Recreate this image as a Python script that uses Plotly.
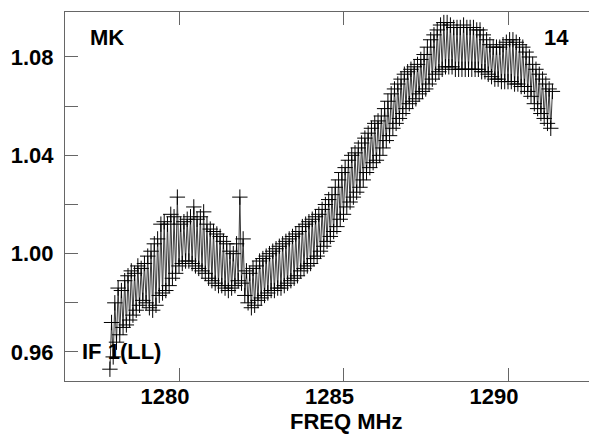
import plotly.graph_objects as go

# ---- data (lower / upper envelope channels) ----
freq_lower = [1277.90,
    1278.00, 1278.10, 1278.20, 1278.30, 1278.40, 1278.50, 1278.60, 1278.70, 1278.80, 1278.90,
    1279.00, 1279.10, 1279.20, 1279.30, 1279.40, 1279.50, 1279.60, 1279.70, 1279.80, 1279.90,
    1280.00, 1280.10, 1280.20, 1280.30, 1280.40, 1280.50, 1280.60, 1280.70, 1280.80, 1280.90,
    1281.00, 1281.10, 1281.20, 1281.30, 1281.40, 1281.50, 1281.60, 1281.70, 1281.80, 1281.90,
    1282.00, 1282.10, 1282.20, 1282.30, 1282.40, 1282.50, 1282.60, 1282.70, 1282.80, 1282.90,
    1283.00, 1283.10, 1283.20, 1283.30, 1283.40, 1283.50, 1283.60, 1283.70, 1283.80, 1283.90,
    1284.00, 1284.10, 1284.20, 1284.30, 1284.40, 1284.50, 1284.60, 1284.70, 1284.80, 1284.90,
    1285.00, 1285.10, 1285.20, 1285.30, 1285.40, 1285.50, 1285.60, 1285.70, 1285.80, 1285.90,
    1286.00, 1286.10, 1286.20, 1286.30, 1286.40, 1286.50, 1286.60, 1286.70, 1286.80, 1286.90,
    1287.00, 1287.10, 1287.20, 1287.30, 1287.40, 1287.50, 1287.60, 1287.70, 1287.80, 1287.90,
    1288.00, 1288.10, 1288.20, 1288.30, 1288.40, 1288.50, 1288.60, 1288.70, 1288.80, 1288.90,
    1289.00, 1289.10, 1289.20, 1289.30, 1289.40, 1289.50, 1289.60, 1289.70, 1289.80, 1289.90,
    1290.00, 1290.10, 1290.20, 1290.30, 1290.40, 1290.50, 1290.60, 1290.70, 1290.80, 1290.90,
    1291.00, 1291.10, 1291.20, 1291.30]
amp_lower = [0.953,
    0.958, 0.964, 0.967, 0.970, 0.971, 0.973, 0.975, 0.977, 0.979, 0.981,
    0.980, 0.978, 0.977, 0.979, 0.983, 0.984, 0.985, 0.987, 0.990, 0.992,
    0.995, 0.996, 0.997, 0.997, 0.996, 0.995, 0.994, 0.993, 0.992, 0.990,
    0.989, 0.988, 0.987, 0.987, 0.986, 0.985, 0.986, 0.987, 0.989, 0.988,
    0.983, 0.980, 0.978, 0.979, 0.981, 0.982, 0.983, 0.984, 0.985, 0.985,
    0.986, 0.986, 0.987, 0.988, 0.989, 0.990, 0.991, 0.993, 0.994, 0.995,
    0.996, 0.998, 0.999, 1.001, 1.003, 1.005, 1.007, 1.009, 1.011, 1.014,
    1.016, 1.019, 1.021, 1.023, 1.025, 1.027, 1.030, 1.033, 1.035, 1.037,
    1.038, 1.040, 1.043, 1.046, 1.048, 1.051, 1.053, 1.055, 1.057, 1.059,
    1.061, 1.062, 1.063, 1.065, 1.066, 1.067, 1.069, 1.071, 1.073, 1.074,
    1.075, 1.076, 1.076, 1.076, 1.075, 1.075, 1.075, 1.075, 1.075, 1.075,
    1.075, 1.075, 1.074, 1.074, 1.073, 1.072, 1.071, 1.071, 1.070, 1.070,
    1.070, 1.070, 1.069, 1.069, 1.068, 1.068, 1.066, 1.064, 1.061, 1.059,
    1.057, 1.055, 1.053, 1.051]

freq_upper = [1277.95,
    1278.05, 1278.15, 1278.25, 1278.35, 1278.45, 1278.55, 1278.65, 1278.75, 1278.85, 1278.95,
    1279.05, 1279.15, 1279.25, 1279.35, 1279.45, 1279.55, 1279.65, 1279.75, 1279.85, 1279.95,
    1280.05, 1280.15, 1280.25, 1280.35, 1280.45, 1280.55, 1280.65, 1280.75, 1280.85, 1280.95,
    1281.05, 1281.15, 1281.25, 1281.35, 1281.45, 1281.55, 1281.65, 1281.75, 1281.85, 1281.95,
    1282.05, 1282.15, 1282.25, 1282.35, 1282.45, 1282.55, 1282.65, 1282.75, 1282.85, 1282.95,
    1283.05, 1283.15, 1283.25, 1283.35, 1283.45, 1283.55, 1283.65, 1283.75, 1283.85, 1283.95,
    1284.05, 1284.15, 1284.25, 1284.35, 1284.45, 1284.55, 1284.65, 1284.75, 1284.85, 1284.95,
    1285.05, 1285.15, 1285.25, 1285.35, 1285.45, 1285.55, 1285.65, 1285.75, 1285.85, 1285.95,
    1286.05, 1286.15, 1286.25, 1286.35, 1286.45, 1286.55, 1286.65, 1286.75, 1286.85, 1286.95,
    1287.05, 1287.15, 1287.25, 1287.35, 1287.45, 1287.55, 1287.65, 1287.75, 1287.85, 1287.95,
    1288.05, 1288.15, 1288.25, 1288.35, 1288.45, 1288.55, 1288.65, 1288.75, 1288.85, 1288.95,
    1289.05, 1289.15, 1289.25, 1289.35, 1289.45, 1289.55, 1289.65, 1289.75, 1289.85, 1289.95,
    1290.05, 1290.15, 1290.25, 1290.35, 1290.45, 1290.55, 1290.65, 1290.75, 1290.85, 1290.95,
    1291.05, 1291.15, 1291.25, 1291.35]
amp_upper = [0.972,
    0.980, 0.986, 0.985, 0.989, 0.991, 0.993, 0.992, 0.995, 0.994, 0.996,
    0.999, 1.001, 1.004, 1.006, 1.012, 1.013, 1.012, 1.016, 1.015, 1.023,
    1.012, 1.013, 1.014, 1.015, 1.019, 1.014, 1.015, 1.017, 1.012, 1.010,
    1.009, 1.008, 1.007, 1.005, 1.004, 1.001, 1.000, 1.004, 1.023, 1.006,
    0.993, 0.992, 0.994, 0.995, 0.997, 0.998, 0.999, 1.000, 1.001, 1.002,
    1.003, 1.004, 1.005, 1.006, 1.007, 1.008, 1.009, 1.011, 1.012, 1.013,
    1.014, 1.015, 1.016, 1.018, 1.020, 1.022, 1.024, 1.027, 1.030, 1.033,
    1.035, 1.038, 1.040, 1.041, 1.043, 1.045, 1.047, 1.049, 1.051, 1.053,
    1.054, 1.056, 1.059, 1.062, 1.065, 1.067, 1.069, 1.071, 1.073, 1.074,
    1.075, 1.076, 1.077, 1.079, 1.081, 1.084, 1.087, 1.089, 1.091, 1.093,
    1.094, 1.094, 1.093, 1.092, 1.092, 1.092, 1.093, 1.092, 1.092, 1.092,
    1.091, 1.091, 1.089, 1.087, 1.085, 1.084, 1.084, 1.084, 1.085, 1.086,
    1.087, 1.087, 1.086, 1.085, 1.084, 1.082, 1.080, 1.077, 1.075, 1.073,
    1.071, 1.069, 1.067, 1.066]

x_tickvals = [1280, 1285, 1290]
x_ticktext = ["1280", "1285", "1290"]
y_tickvals = [0.96, 0.98, 1.00, 1.02, 1.04, 1.06, 1.08]
y_ticktext = ["0.96", "", "1.00", "", "1.04", "", "1.08"]

# channels in frequency order (alternating lower / upper)
points = sorted(zip(freq_lower + freq_upper, amp_lower + amp_upper))
freq = [p[0] for p in points]
amp = [p[1] for p in points]

FONT = "Liberation Sans, Arial, Helvetica, sans-serif"
AX = "#666666"

fig = go.Figure()
fig.add_trace(go.Scatter(
    x=freq, y=amp, mode="lines+markers",
    line=dict(color="#3a3a3a", width=1),
    marker=dict(symbol="cross-thin", size=11, color="black",
                line=dict(width=1, color="black")),
    showlegend=False, hoverinfo="skip"))

fig.update_layout(
    template="none",
    width=589, height=434,
    margin=dict(l=65, r=0, t=12, b=53, autoexpand=False),
    paper_bgcolor="white", plot_bgcolor="white",
    font=dict(family=FONT, size=22, color="black"),
    xaxis=dict(range=[1276.535, 1292.462], showgrid=False, zeroline=False,
               automargin=False,
               showline=True, linecolor=AX, linewidth=1, mirror="ticks",
               ticks="inside", ticklen=13, tickcolor=AX, tickwidth=1,
               tickvals=x_tickvals, ticktext=x_ticktext,
               tickfont=dict(family=FONT, size=22, color="black", weight="bold"),
               ticklabelshift=-14, ticklabelstandoff=-4),
    yaxis=dict(range=[0.9482, 1.0983], showgrid=False, zeroline=False,
               automargin=False,
               showline=True, linecolor=AX, linewidth=1, mirror=True,
               ticks="inside", ticklen=13, tickcolor=AX, tickwidth=1,
               tickvals=y_tickvals, ticktext=y_ticktext,
               tickfont=dict(family=FONT, size=22, color="black", weight="bold"),
               ticklabelstandoff=6),
    yaxis2=dict(range=[0.9482, 1.0983], overlaying="y", side="right",
                automargin=False,
                showgrid=False, zeroline=False, showline=False,
                ticks="inside", ticklen=6, tickcolor=AX, tickwidth=1,
                tickvals=y_tickvals, showticklabels=False),
)

def label(text, x, y, xanchor):
    fig.add_annotation(text="<b>%s</b>" % text, xref="paper", yref="paper",
                       x=x, y=y, xanchor=xanchor, yanchor="middle",
                       showarrow=False,
                       font=dict(family=FONT, size=22, color="black"))

label("MK", 0.0439, 0.9322, "left")
label("14", 0.9656, 0.9322, "right")
label("IF 1(LL)", 0.0286, 0.0786, "left")
label("FREQ MHz", 0.5372, -0.1100, "center")

fig.write_html("out.html",
               config={"displayModeBar": False, "staticPlot": True},
               post_script="document.body.style.margin='0';"
                           "document.body.style.overflow='hidden';")
